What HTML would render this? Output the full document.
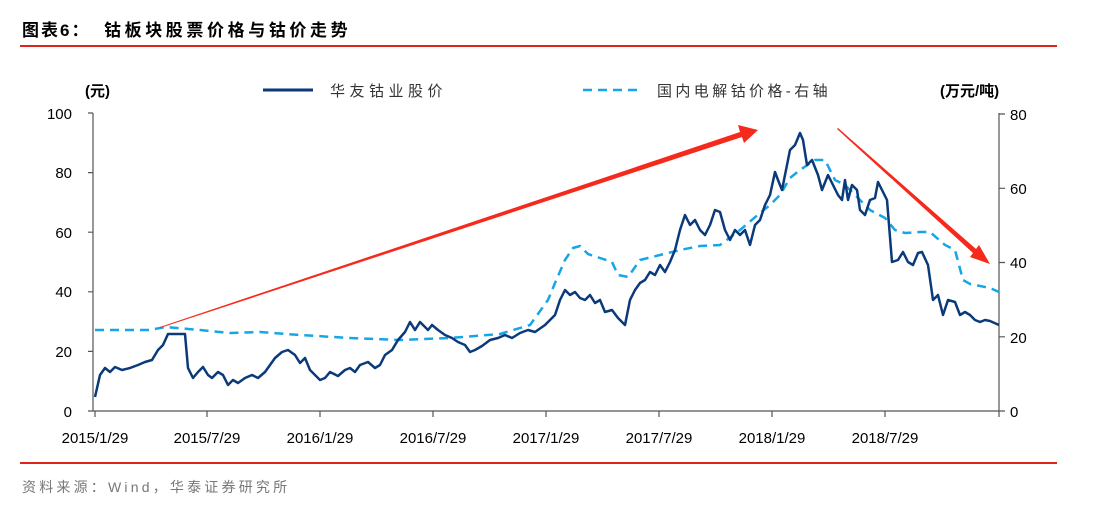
<!DOCTYPE html>
<html><head><meta charset="utf-8"><style>
body{margin:0;background:#fff;width:1095px;height:503px;overflow:hidden}
text{font-family:"Liberation Sans","Noto Sans CJK SC",sans-serif}
</style></head><body>
<svg width="1095" height="503" viewBox="0 0 1095 503" xmlns="http://www.w3.org/2000/svg">
<text x="22" y="36" font-size="17" font-weight="bold" fill="#000" letter-spacing="2">图表6：</text>
<text x="104" y="36" font-size="17" font-weight="bold" fill="#000" letter-spacing="3.6">钴板块股票价格与钴价走势</text>
<rect x="20" y="45" width="1037" height="2" fill="#e0241b"/>
<rect x="20" y="462" width="1037" height="2" fill="#e0241b"/>
<text x="22" y="492" font-size="14" fill="#777" letter-spacing="3.2">资料来源：Wind，华泰证券研究所</text>

<text x="85" y="96" font-size="15" font-weight="bold">(元)</text>
<text x="940" y="96" font-size="15" font-weight="bold">(万元/吨)</text>
<line x1="263" y1="90" x2="313" y2="90" stroke="#0a3a7a" stroke-width="3"/>
<text x="330" y="96" font-size="15" fill="#333" letter-spacing="4.5">华友钴业股价</text>
<line x1="583" y1="90" x2="640" y2="90" stroke="#16a6e8" stroke-width="2.5" stroke-dasharray="9,6"/>
<text x="657" y="96" font-size="15" fill="#333" letter-spacing="3.4">国内电解钴价格-右轴</text>

<g stroke="#555" stroke-width="1.2" fill="none">
<line x1="93" y1="113" x2="93" y2="411"/>
<line x1="93" y1="411" x2="999" y2="411"/>
<line x1="999" y1="113" x2="999" y2="411"/>
<path d="M88 113H93M88 172.6H93M88 232.2H93M88 291.8H93M88 351.4H93M88 411H93"/>
<path d="M999 114H1005M999 188.3H1005M999 262.5H1005M999 336.8H1005M999 411H1005"/>
<path d="M95 411V417M207 411V417M320 411V417M433 411V417M546 411V417M659 411V417M772 411V417M885 411V417M999 411V417"/>
</g>
<g font-size="15" fill="#000" text-anchor="end">
<text x="72" y="119">100</text><text x="72" y="178">80</text><text x="72" y="238">60</text>
<text x="72" y="297">40</text><text x="72" y="357">20</text><text x="72" y="417">0</text>
</g>
<g font-size="15" fill="#000">
<text x="1010" y="120">80</text><text x="1010" y="194">60</text><text x="1010" y="268">40</text>
<text x="1010" y="343">20</text><text x="1010" y="417">0</text>
</g>
<g font-size="15" fill="#000" text-anchor="middle">
<text x="95" y="443">2015/1/29</text><text x="207" y="443">2015/7/29</text><text x="320" y="443">2016/1/29</text>
<text x="433" y="443">2016/7/29</text><text x="546" y="443">2017/1/29</text><text x="659" y="443">2017/7/29</text>
<text x="772" y="443">2018/1/29</text><text x="885" y="443">2018/7/29</text>
</g>

<polyline fill="none" stroke="#16a6e8" stroke-width="2.5" stroke-dasharray="9,6" points="95,330 150,330 165,327 200,330 230,333 260,332 300,335 350,338 400,340 450,338 500,334 530,325 548,300 555,283 565,260 573,248 580,246 588,254 600,258 612,262 618,275 628,277 640,260 660,255 680,250 700,246 720,245 740,230 760,213 770,205 780,195 790,178 800,170 815,160 825,160 835,180 845,185 855,195 870,210 885,218 895,230 905,233 920,232 930,232 945,245 955,250 963,280 970,284 990,288 999,292"/>

<polyline fill="none" stroke="#0a3a7a" stroke-width="2.5" stroke-linejoin="round" points="95,397 100,375 105,368 110,372 115,367 122,370 130,368 138,365 145,362 152,360 158,350 163,345 168,334 185,334 188,368 193,378 198,372 203,367 208,375 212,378 218,372 223,375 228,385 233,380 238,383 245,378 252,375 258,378 265,372 270,365 275,358 282,352 288,350 295,355 300,363 305,358 310,370 315,375 320,380 325,378 330,372 338,376 345,370 350,368 355,372 360,365 368,362 375,368 380,365 385,355 392,350 398,340 405,332 410,322 415,330 420,322 428,330 432,325 438,330 445,335 452,338 458,342 465,345 470,352 475,350 482,346 490,340 498,338 505,335 512,338 520,333 528,330 535,332 545,325 550,320 555,315 560,300 565,290 570,295 575,292 580,298 585,300 590,295 595,303 600,300 605,312 612,310 618,318 625,325 630,300 635,290 640,283 645,280 650,272 655,275 660,265 665,272 670,262 675,250 680,230 685,215 690,225 695,220 700,230 705,235 710,225 715,210 720,212 725,230 730,240 735,230 740,235 745,230 750,245 755,225 760,220 765,205 770,195 775,172 778,180 782,190 787,165 790,150 795,145 800,133 803,140 807,165 812,160 818,175 822,190 828,175 833,185 838,195 842,200 845,180 848,200 852,185 857,190 860,210 865,215 870,200 875,198 878,182 882,190 887,200 892,262 898,260 903,252 908,262 913,265 918,253 922,252 928,265 933,300 938,295 943,315 948,300 955,302 960,315 965,312 970,315 975,320 980,322 985,320 990,321 999,325"/>

<polygon fill="#f52a1c" points="160,327 740,132 738,125 758,130 744,143 742,137 160,328"/>
<polygon fill="#f52a1c" points="837,129 838,128 976,249 979,245 990,264 970,257 973,253"/>
</svg>
</body></html>
